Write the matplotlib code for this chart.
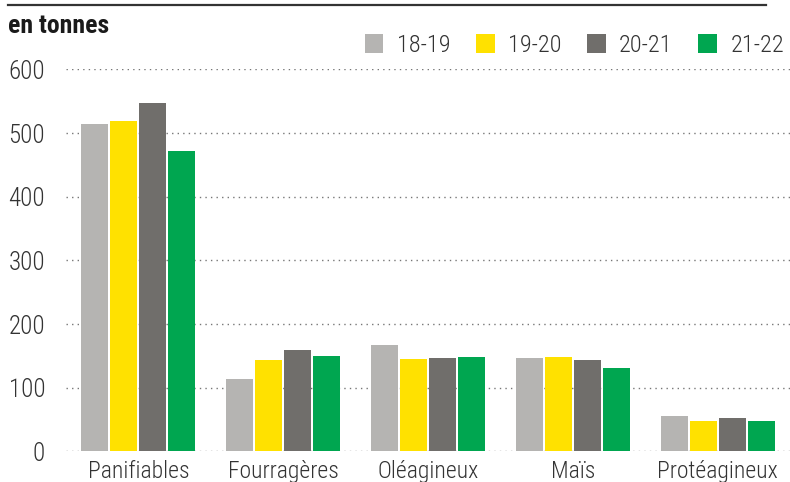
import numpy as np
import matplotlib
matplotlib.use("Agg")
import matplotlib.pyplot as plt
from matplotlib.patches import Patch
from matplotlib.lines import Line2D

categories = ["Panifiables", "Fourragères", "Oléagineux", "Maïs", "Protéagineux"]
seasons = ["18-19", "19-20", "20-21", "21-22"]
v_18_19 = [514, 114, 167, 147, 56]
v_19_20 = [519, 144, 145, 148, 48]
v_20_21 = [548, 159, 147, 144, 52]
v_21_22 = [472, 150, 148, 131, 48]
colors = ["#b5b4b2", "#ffe100", "#706e6b", "#00a650"]
yticks = [0, 100, 200, 300, 400, 500, 600]

FONT = "Roboto Condensed"
TXT = "#333333"

fig = plt.figure(figsize=(7.9, 4.82), dpi=100)
ax = fig.add_axes([66 / 790, (482 - 451.4) / 482, 724 / 790, 382 / 482])

x = np.arange(len(categories))
series = [v_18_19, v_19_20, v_20_21, v_21_22]
for i, (vals, c) in enumerate(zip(series, colors)):
    ax.bar(x + (i - 1.5) * 0.2, vals, width=0.186, color=c, zorder=3, label=seasons[i])

ax.set_xlim(-0.5, 4.5)
ax.set_ylim(0, 600)
ax.set_yticks(yticks)
ax.set_yticklabels([str(t) for t in yticks], fontfamily=FONT, fontweight="light",
                   fontsize=18, color=TXT)
ax.set_xticks(x)
ax.set_xticklabels(categories, fontfamily=FONT, fontweight="light", fontsize=17, color=TXT)
ax.tick_params(axis="y", length=0, pad=15)
ax.tick_params(axis="x", length=0, pad=6)
for s in ax.spines.values():
    s.set_visible(False)
ax.grid(axis="y", color="#777777", linestyle=(0, (1, 3)), linewidth=1, zorder=0)
ax.set_axisbelow(True)

# top rule and unit label
fig.add_artist(Line2D([8 / 790, 766 / 790], [1 - 5 / 482, 1 - 5 / 482], color=TXT, lw=1.6))
fig.text(8 / 790, 1 - 33 / 482, "en tonnes", fontfamily=FONT, fontweight="bold",
         fontsize=18.5, color="#1a1a1a", va="baseline")

handles = [Patch(facecolor=c, edgecolor="none") for c in colors]
leg = fig.legend(handles, seasons, loc="center right", bbox_to_anchor=(784 / 790, 1 - 45.5 / 482),
                 ncol=4, frameon=False, handlelength=0.77, handleheight=0.77,
                 handletextpad=0.55, columnspacing=1.05, borderpad=0, borderaxespad=0,
                 prop={"family": FONT, "size": 17.5, "weight": "light"})
for t in leg.get_texts():
    t.set_color(TXT)

fig.savefig("out.png", dpi=100)
